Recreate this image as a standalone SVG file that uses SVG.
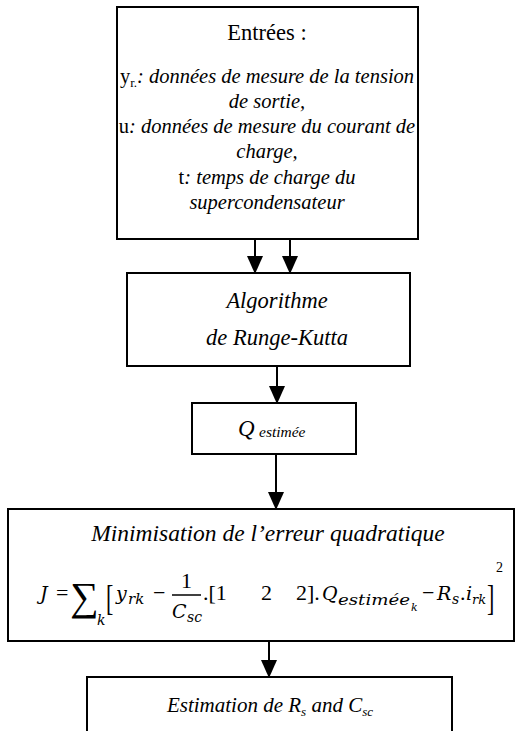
<svg xmlns="http://www.w3.org/2000/svg" width="523" height="731" viewBox="0 0 523 731" font-family="'Liberation Serif','Times New Roman',serif">
<style>
.box{fill:#fff;stroke:#000;stroke-width:2}
.t{font-family:"Liberation Serif","Times New Roman",serif;font-size:20.5px;fill:#000}
.f{font-family:"Liberation Serif","Times New Roman",serif;font-size:22px;fill:#000}
.v{font-family:"DejaVu Serif","Liberation Serif",serif;font-style:italic;font-size:19px;fill:#000}
.s{font-family:"DejaVu Serif","Liberation Serif",serif;font-style:italic;font-size:14px;fill:#000}
.i{font-style:italic}
.c{text-anchor:middle}
.conn line{stroke:#000;stroke-width:2}
</style>
<defs>
<marker id="ah" markerUnits="userSpaceOnUse" markerWidth="18" markerHeight="22" refX="16" refY="8" orient="auto">
<path d="M0,0 L18,8 L0,16 Z" fill="#000"/>
</marker>
</defs>
<rect width="523" height="731" fill="#fff"/>
<g id="entrees">
<rect class="box" x="117" y="7" width="301" height="232"/>
<text class="t c" x="267" y="40" style="font-size:22.5px">Entrées :</text>
<text class="t c" x="267" y="83">y<tspan style="font-size:13px" dy="4">r.</tspan><tspan class="i" dy="-4">: données de mesure de la tension</tspan></text>
<text class="t i c" x="267" y="108">de sortie,</text>
<text class="t c" x="267" y="133">u<tspan class="i">: données de mesure du courant de</tspan></text>
<text class="t i c" x="267" y="158">charge,</text>
<text class="t c" x="267" y="184">t<tspan class="i">: temps de charge du</tspan></text>
<text class="t i c" x="267" y="209">supercondensateur</text>
</g>
<g id="runge-kutta">
<rect class="box" x="127" y="273" width="283" height="93"/>
<text class="t i c" x="277" y="308" style="font-size:22.5px">Algorithme</text>
<text class="t i c" x="277" y="345" style="font-size:22.5px">de Runge-Kutta</text>
</g>
<g id="q-estimee">
<rect class="box" x="192" y="403" width="164" height="51"/>
<text class="t i" x="238" y="436" style="font-size:23px">Q</text>
<text class="t i" x="259" y="437" style="font-size:15.5px">estimée</text>
</g>
<g id="minimisation">
<rect class="box" x="8" y="509" width="506" height="132"/>
<text class="t i c" x="268" y="541" style="font-size:23.5px">Minimisation de l’erreur quadratique</text>
<text class="v" x="40" y="600">J</text>
<text class="f" x="56" y="600">=</text>
<text class="f" x="70" y="610" style="font-size:40px">∑</text>
<text class="s" x="97" y="625">k</text>
<text class="f" transform="translate(106,610) scale(1,1.6)">[</text>
<text class="v" x="116" y="600">y</text>
<text class="s" x="128" y="604" style="font-size:15px">rk</text>
<text class="f" x="153" y="600">−</text>
<text class="f" x="181" y="588">1</text>
<line x1="172" y1="595" x2="201" y2="595" stroke="#000" stroke-width="1.5"/>
<text class="v" x="172" y="618">C</text>
<text class="s" x="187" y="622">sc</text>
<text class="f" x="203" y="600">.[1</text>
<text class="f" x="261" y="600">2</text>
<text class="f" x="296" y="600">2].</text>
<text class="v" x="322" y="600">Q</text>
<text class="s" x="338" y="605" style="font-size:15px" textLength="72" lengthAdjust="spacingAndGlyphs">estimée</text>
<text class="s" x="411" y="611" style="font-size:11px">k</text>
<text class="f" x="422" y="600">−</text>
<text class="v" x="437" y="600">R</text>
<text class="s" x="452" y="604">s</text>
<text class="f" x="460" y="600">.</text>
<text class="v" x="466" y="600">i</text>
<text class="s" x="472" y="604" style="font-size:13px">rk</text>
<text class="f" transform="translate(487,610) scale(1,1.6)">]</text>
<text class="f" x="496" y="572" style="font-size:14px">2</text>
</g>
<g id="estimation">
<rect class="box" x="87" y="677" width="365" height="70"/>
<text class="t i c" x="270" y="712" style="font-size:21px">Estimation de  R<tspan style="font-size:13px" dy="4">s</tspan><tspan dy="-4"> and C</tspan><tspan style="font-size:13px" dy="4">sc</tspan></text>
</g>
<g id="connectors" class="conn">
<line x1="255" y1="239" x2="255" y2="272" marker-end="url(#ah)"/>
<line x1="290" y1="239" x2="290" y2="272" marker-end="url(#ah)"/>
<line x1="277" y1="366" x2="277" y2="402" marker-end="url(#ah)"/>
<line x1="276" y1="454" x2="276" y2="508" marker-end="url(#ah)"/>
<line x1="269" y1="641" x2="269" y2="676" marker-end="url(#ah)"/>
</g>
</svg>
